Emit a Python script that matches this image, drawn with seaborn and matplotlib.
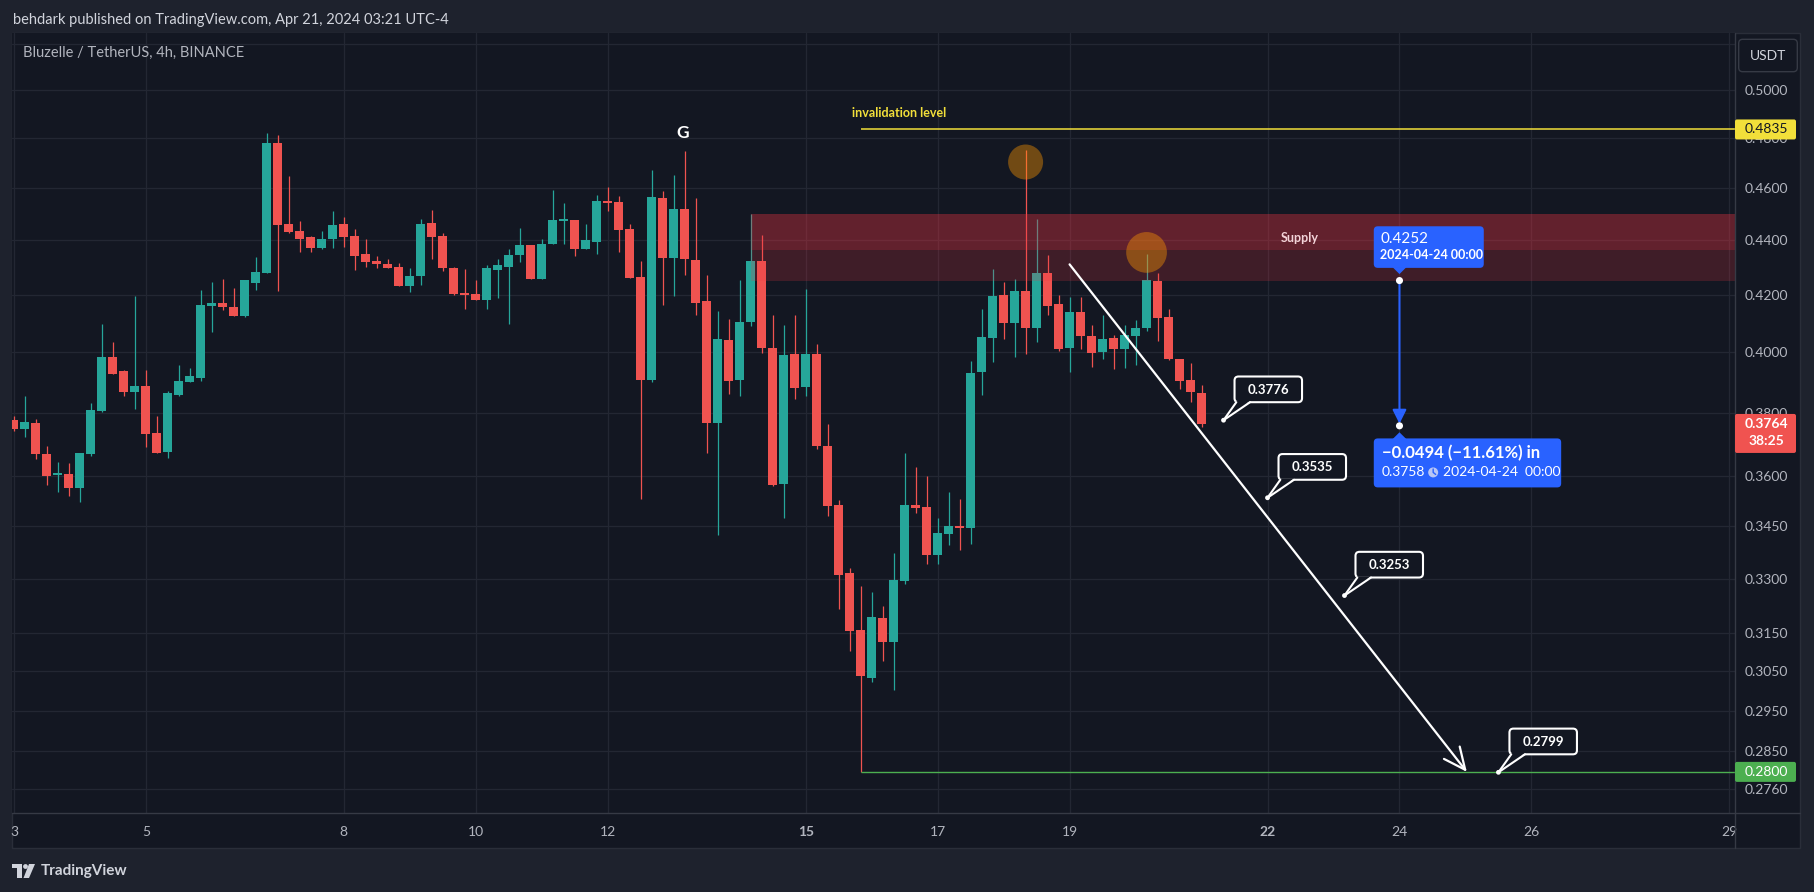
import numpy as np
import pandas as pd
import matplotlib
matplotlib.use("Agg")
import matplotlib.pyplot as plt
import seaborn as sns
from matplotlib.patches import Rectangle, FancyBboxPatch, Polygon, Circle
from matplotlib.lines import Line2D
from matplotlib.transforms import IdentityTransform
from matplotlib.ticker import NullLocator

# ---------------- data ----------------
first_candle = "2024-04-03 00:00"   # 4h candles
opens = [0.3777, 0.3748, 0.3767, 0.3669, 0.3605, 0.3607, 0.3563, 0.3670, 0.3807, 0.3984,
         0.3937, 0.3869, 0.3887, 0.3735, 0.3676, 0.3859, 0.3902, 0.3915, 0.4162, 0.4172,
         0.4157, 0.4127, 0.4244, 0.4281, 0.4780, 0.4462, 0.4435, 0.4412, 0.4373, 0.4406,
         0.4462, 0.4416, 0.4350, 0.4324, 0.4313, 0.4302, 0.4234, 0.4267, 0.4465, 0.4416,
         0.4298, 0.4207, 0.4204, 0.4183, 0.4289, 0.4303, 0.4347, 0.4382, 0.4259, 0.4387,
         0.4474, 0.4477, 0.4369, 0.4395, 0.4550, 0.4545, 0.4442, 0.4266, 0.3908, 0.4561,
         0.4333, 0.4519, 0.4328, 0.4179, 0.3767, 0.4042, 0.3908, 0.4104, 0.4324, 0.4015,
         0.3577, 0.3995, 0.3884, 0.3995, 0.3694, 0.3513, 0.3316, 0.3159, 0.3033, 0.3192,
         0.3128, 0.3294, 0.3513, 0.3507, 0.3368, 0.3429, 0.3451, 0.3446, 0.3935, 0.4050,
         0.4201, 0.4103, 0.4215, 0.4085, 0.4280, 0.4168, 0.4016, 0.4140, 0.4056, 0.4003,
         0.4049, 0.4013, 0.4057, 0.4085, 0.4250, 0.4122, 0.3978, 0.3907, 0.3865]
highs = [0.3789, 0.3855, 0.3780, 0.3694, 0.3644, 0.3641, 0.3672, 0.3832, 0.4098, 0.4036,
         0.3941, 0.4197, 0.3941, 0.3789, 0.3871, 0.3957, 0.3947, 0.4218, 0.4247, 0.4258,
         0.4225, 0.4254, 0.4338, 0.4820, 0.4813, 0.4648, 0.4473, 0.4415, 0.4435, 0.4513,
         0.4488, 0.4442, 0.4405, 0.4342, 0.4331, 0.4316, 0.4296, 0.4481, 0.4515, 0.4427,
         0.4302, 0.4295, 0.4254, 0.4309, 0.4331, 0.4368, 0.4446, 0.4382, 0.4405, 0.4593,
         0.4542, 0.4477, 0.4462, 0.4573, 0.4604, 0.4569, 0.4462, 0.4324, 0.4671, 0.4589,
         0.4651, 0.4747, 0.4561, 0.4273, 0.4144, 0.4115, 0.4254, 0.4499, 0.4420, 0.4129,
         0.4094, 0.4129, 0.4222, 0.4029, 0.3764, 0.3528, 0.3330, 0.3279, 0.3263, 0.3224,
         0.3372, 0.3672, 0.3629, 0.3601, 0.3475, 0.3552, 0.3531, 0.3972, 0.4151, 0.4295,
         0.4247, 0.4258, 0.4751, 0.4481, 0.4346, 0.4201, 0.4193, 0.4193, 0.4094, 0.4129,
         0.4060, 0.4094, 0.4112, 0.4350, 0.4280, 0.4151, 0.3978, 0.3965, 0.3890]
lows = [0.3743, 0.3723, 0.3654, 0.3575, 0.3553, 0.3541, 0.3523, 0.3664, 0.3803, 0.3928,
        0.3856, 0.3813, 0.3692, 0.3673, 0.3657, 0.3853, 0.3902, 0.3905, 0.4071, 0.4148,
        0.4127, 0.4123, 0.4219, 0.4281, 0.4215, 0.4429, 0.4358, 0.4358, 0.4369, 0.4373,
        0.4376, 0.4292, 0.4303, 0.4296, 0.4299, 0.4234, 0.4212, 0.4237, 0.4332, 0.4285,
        0.4201, 0.4151, 0.4183, 0.4151, 0.4190, 0.4098, 0.4318, 0.4259, 0.4256, 0.4387,
        0.4387, 0.4340, 0.4369, 0.4351, 0.4513, 0.4357, 0.4262, 0.3531, 0.3902, 0.4165,
        0.4197, 0.4273, 0.4129, 0.3672, 0.3425, 0.3861, 0.3855, 0.4092, 0.3998, 0.3571,
        0.3475, 0.3845, 0.3855, 0.3684, 0.3481, 0.3215, 0.3104, 0.2800, 0.3023, 0.3078,
        0.3002, 0.3286, 0.3488, 0.3342, 0.3342, 0.3397, 0.3380, 0.3400, 0.3859, 0.3966,
        0.4047, 0.3986, 0.3993, 0.4037, 0.4130, 0.4006, 0.3935, 0.4010, 0.3950, 0.3979,
        0.3943, 0.3946, 0.3956, 0.4075, 0.4040, 0.3973, 0.3879, 0.3836, 0.3755]
closes = [0.3748, 0.3770, 0.3670, 0.3602, 0.3608, 0.3563, 0.3672, 0.3809, 0.3984, 0.3928,
          0.3869, 0.3887, 0.3733, 0.3673, 0.3864, 0.3904, 0.3921, 0.4165, 0.4172, 0.4159,
          0.4127, 0.4254, 0.4283, 0.4780, 0.4459, 0.4432, 0.4406, 0.4373, 0.4405, 0.4458,
          0.4413, 0.4343, 0.4321, 0.4314, 0.4299, 0.4234, 0.4267, 0.4462, 0.4413, 0.4299,
          0.4205, 0.4201, 0.4183, 0.4298, 0.4309, 0.4346, 0.4382, 0.4259, 0.4386, 0.4477,
          0.4478, 0.4369, 0.4401, 0.4550, 0.4543, 0.4438, 0.4262, 0.3908, 0.4565, 0.4333,
          0.4519, 0.4329, 0.4173, 0.3767, 0.4046, 0.3904, 0.4104, 0.4324, 0.4015, 0.3574,
          0.3991, 0.3881, 0.3995, 0.3694, 0.3510, 0.3311, 0.3157, 0.3039, 0.3194, 0.3128,
          0.3296, 0.3513, 0.3505, 0.3368, 0.3431, 0.3451, 0.3446, 0.3931, 0.4053, 0.4197,
          0.4103, 0.4215, 0.4085, 0.4280, 0.4162, 0.4013, 0.4140, 0.4057, 0.3999, 0.4046,
          0.4013, 0.4060, 0.4084, 0.4254, 0.4120, 0.3976, 0.3905, 0.3866, 0.3764]

price_ticks = [0.5200, 0.5000, 0.4800, 0.4600, 0.4400, 0.4200, 0.4000, 0.3800, 0.3600,
               0.3450, 0.3300, 0.3150, 0.3050, 0.2950, 0.2850, 0.2760]
day_ticks = [3, 5, 8, 10, 12, 15, 17, 19, 22, 24, 26, 29]
bold_days = [15, 22]

supply_start = "2024-04-14 04:00"
supply_top, supply_inner, supply_bottom = 0.4500, 0.4364, 0.4250

invalidation_start = "2024-04-15 20:00"
invalidation_price = 0.4835
target_start = "2024-04-15 20:00"
target_price = 0.2800

highlight_times = ["2024-04-18 08:00", "2024-04-20 04:00"]
highlight_prices = [0.4703, 0.4355]

path_start_time, path_start_price = "2024-04-19 00:00", 0.4311
path_end_time, path_end_price = "2024-04-25 00:30", 0.2800

callout_times = ["2024-04-21 08:00", "2024-04-22 00:00", "2024-04-23 04:00", "2024-04-25 12:00"]
callout_prices = [0.3776, 0.3535, 0.3253, 0.2799]

measure_time = "2024-04-24 00:00"
measure_from, measure_to = 0.4252, 0.3758
measure_change, measure_pct = -0.0494, -11.61

last_price = 0.3764
countdown = "38:25"

# ---------------- style ----------------
W, H = 1814, 892
BG_OUT = "#1e222d"
BG = "#131722"
GRID = "#232733"
TXT = "#b2b5be"
GREEN = "#26a69a"
RED = "#ef5350"
BLUE = "#2962ff"
YELLOW = "#f2df3a"

sns.set_theme(style="dark", rc={"axes.facecolor": BG, "figure.facecolor": BG_OUT,
                                 "savefig.facecolor": BG_OUT})
plt.rcParams["font.family"] = ["Lato", "DejaVu Sans"]

fig = plt.figure(figsize=(W / 100, H / 100), dpi=100)
fig.add_artist(Rectangle((12 / W, 1 - 848 / H), (1800 - 12) / W, (848 - 33) / H,
                         transform=fig.transFigure, fc=BG, ec="#2a2e39", lw=1, zorder=-10))
ax = fig.add_axes([12 / W, 1 - 813 / H, (1735 - 12) / W, (813 - 33) / H])
ax.set_facecolor(BG)
for s in ax.spines.values():
    s.set_visible(False)


def dayf(t):
    t = pd.to_datetime(t)
    return (t - pd.Timestamp("2024-04-01")) / pd.Timedelta(days=1) + 1


XLIM = (2.9712, 29.0852)
YLIM = (0.27038, 0.52483)
ax.set_yscale("log")

times = pd.date_range(first_candle, periods=len(opens), freq="4h")
x = np.asarray(dayf(times), dtype=float)
o, h, l, c = map(np.asarray, (opens, highs, lows, closes))
col = np.where(c >= o, GREEN, RED)
bot = np.minimum(o, c)
hgt = np.maximum(np.abs(c - o), bot * 0.0012)

ax.vlines(x, l, h, colors=col, lw=0.9, zorder=3)
ax.bar(x, hgt, bottom=bot, width=4 / 24 * 0.82, color=col, lw=0, zorder=4)

# supply zone
xs = float(dayf(supply_start))
ax.add_patch(Rectangle((xs, supply_bottom), XLIM[1] - xs, supply_top - supply_bottom,
                       fc="#f23645", alpha=0.2, lw=0, zorder=5))
ax.add_patch(Rectangle((xs, supply_inner), XLIM[1] - xs, supply_top - supply_inner,
                       fc="#f23645", alpha=0.2, lw=0, zorder=5))
ax.text(22.49, 0.4409, "Supply", color="#f3d3d8", fontsize=9, fontweight="bold",
        ha="center", va="center", zorder=6)

# highlight circles
sns.scatterplot(x=[float(dayf(highlight_times[0]))], y=[highlight_prices[0]], s=635,
                color="#ff9800", alpha=0.4, edgecolor="none", ax=ax, zorder=6, legend=False)
sns.scatterplot(x=[float(dayf(highlight_times[1]))], y=[highlight_prices[1]], s=860,
                color="#ff9800", alpha=0.4, edgecolor="none", ax=ax, zorder=6, legend=False)

# levels
ax.hlines(invalidation_price, float(dayf(invalidation_start)), XLIM[1], color=YELLOW, lw=1.1, zorder=6)
ax.text(15.698, 0.4902, "invalidation level", color=YELLOW, fontsize=9, fontweight="bold",
        ha="left", va="center", zorder=6)
ax.hlines(target_price, float(dayf(target_start)), XLIM[1], color="#4caf50", lw=1.0, zorder=6)
ax.text(13.141, 0.4820, "G", color="white", fontsize=12.5, fontweight="bold",
        ha="center", va="center", zorder=6)

# projected path arrow
ax.annotate("", xy=(float(dayf(path_end_time)), path_end_price),
            xytext=(float(dayf(path_start_time)), path_start_price),
            arrowprops=dict(arrowstyle="->,head_length=1.3,head_width=0.6", color="white",
                            lw=1.6, shrinkA=0, shrinkB=0), zorder=7)

# measure line
mx = float(dayf(measure_time))
ax.annotate("", xy=(mx, measure_to), xytext=(mx, measure_from),
            arrowprops=dict(arrowstyle="-|>,head_length=0.7,head_width=0.35", color=BLUE,
                            lw=1.5, shrinkA=0, shrinkB=1.5), zorder=7)
sns.scatterplot(x=[mx, mx], y=[measure_from, measure_to], s=26, color="white",
                edgecolor="none", ax=ax, zorder=8, legend=False)

# callout dots
cx = [float(dayf(t)) for t in callout_times]
sns.scatterplot(x=cx, y=callout_prices, s=12, color="white", edgecolor="none",
                ax=ax, zorder=8, legend=False)

# axes
ax.set_xlim(*XLIM)
ax.set_ylim(*YLIM)
ax.set_xlabel("")
ax.set_ylabel("")
ax.set_xticks(day_ticks)
ax.set_xticklabels([str(d) for d in day_ticks])
for lab, d in zip(ax.get_xticklabels(), day_ticks):
    if d in bold_days:
        lab.set_fontweight("bold")
ax.tick_params(axis="x", length=0, pad=9.5, colors=TXT, labelsize=10)
ax.yaxis.tick_right()
ax.set_yticks(price_ticks)
ax.set_yticklabels(["" if p > 0.51 else f"{p:.4f}" for p in price_ticks])
ax.yaxis.set_minor_locator(NullLocator())
ax.tick_params(axis="y", length=0, pad=7, colors=TXT, labelsize=10)
ax.grid(True, which="major", color=GRID, lw=0.9)
ax.set_axisbelow(True)

ID = IdentityTransform()


def dpt(xd, yd):
    return ax.transData.transform((xd, yd))


# separators
fig.add_artist(Line2D([1735 / W, 1735 / W], [1 - 848 / H, 1 - 33 / H], transform=fig.transFigure,
                      color="#363a45", lw=1, zorder=2))
fig.add_artist(Line2D([12 / W, 1800 / W], [1 - 813 / H, 1 - 813 / H], transform=fig.transFigure,
                      color="#363a45", lw=1, zorder=2))

# callout boxes
for t, p in zip(callout_times, callout_prices):
    dx, dy = dpt(float(dayf(t)), p)
    bl, bb = dx + 11, dy + 18
    fig.add_artist(FancyBboxPatch((bl, bb), 67.5, 25.7, boxstyle="round,pad=0,rounding_size=4",
                                  transform=ID, fc=BG, ec="white", lw=1.5, zorder=20))
    fig.add_artist(Polygon([(bl + 1.8, bb + 1.3), (bl + 15.5, bb + 1.3), (dx, dy)], closed=True,
                           transform=ID, fc=BG, ec="none", zorder=21))
    for ex in (bl + 1.8, bl + 15.5):
        fig.add_artist(Line2D([dx, ex], [dy, bb], transform=ID, color="white", lw=1.5, zorder=22))
    fig.text(bl + 33.75, bb + 12.5, f"{p:.4f}", transform=ID, ha="center", va="center",
             color="white", fontsize=9.5, fontweight="bold", zorder=23)

# measure boxes
tx, ty = dpt(mx, measure_from)
_, by = dpt(mx, measure_to)
fig.add_artist(FancyBboxPatch((tx - 25.7, ty + 12.7), 110, 41.6, boxstyle="round,pad=0,rounding_size=4",
                              transform=ID, fc=BLUE, ec="none", zorder=20))
fig.add_artist(Polygon([(tx - 7, ty + 13.5), (tx + 7, ty + 13.5), (tx, ty + 6.5)], closed=True,
                       transform=ID, fc=BLUE, ec="none", zorder=20))
fig.text(tx - 19, ty + 41.7, f"{measure_from:.4f}", transform=ID, ha="left", va="center",
         color="white", fontsize=11, zorder=23)
fig.text(tx - 19, ty + 25.2, measure_time, transform=ID, ha="left", va="center",
         color="white", fontsize=9, fontweight="bold", zorder=23)

fig.add_artist(FancyBboxPatch((tx - 25.7, by - 61.6), 187.4, 49, boxstyle="round,pad=0,rounding_size=4",
                              transform=ID, fc=BLUE, ec="none", zorder=20))
fig.add_artist(Polygon([(tx - 7, by - 13.4), (tx + 7, by - 13.4), (tx, by - 6.5)], closed=True,
                       transform=ID, fc=BLUE, ec="none", zorder=20))
fig.text(tx - 17.3, by - 27.6, f"\u2212{abs(measure_change):.4f} (\u2212{abs(measure_pct):.2f}%) in",
         transform=ID, ha="left", va="center", color="white", fontsize=12, fontweight="bold", zorder=23)
fig.text(tx - 18, by - 46.6, f"{measure_to:.4f}", transform=ID, ha="left", va="center",
         color="white", fontsize=10, zorder=23)
fig.add_artist(Circle((tx + 33.7, by - 46.6), 5, transform=ID, fc="#b9c6f5", ec="none", zorder=22))
fig.add_artist(Line2D([tx + 33.7, tx + 33.7, tx + 36.2], [by - 43.2, by - 46.6, by - 48.6],
                      transform=ID, color=BLUE, lw=1, zorder=23))
fig.text(tx + 43.3, by - 46.6, measure_time.replace(" ", "  "), transform=ID, ha="left",
         va="center", color="white", fontsize=10, zorder=23)

# price-axis labels
_, yy = dpt(XLIM[1], invalidation_price)
fig.add_artist(FancyBboxPatch((1735, yy - 10), 61, 20, boxstyle="round,pad=0,rounding_size=2",
                              transform=ID, fc=YELLOW, ec="none", zorder=20))
fig.text(1766, yy, f"{invalidation_price:.4f}", transform=ID, ha="center", va="center",
         color=BG, fontsize=10, zorder=23)
_, yy = dpt(XLIM[1], target_price)
fig.add_artist(FancyBboxPatch((1735, yy - 10), 61, 20, boxstyle="round,pad=0,rounding_size=2",
                              transform=ID, fc="#4caf50", ec="none", zorder=20))
fig.text(1766, yy, f"{target_price:.4f}", transform=ID, ha="center", va="center",
         color="white", fontsize=10, zorder=23)
_, yy = dpt(XLIM[1], last_price)
fig.add_artist(FancyBboxPatch((1735, yy - 29), 61, 39, boxstyle="round,pad=0,rounding_size=2",
                              transform=ID, fc="#f05350", ec="none", zorder=20))
fig.text(1766, yy, f"{last_price:.4f}", transform=ID, ha="center", va="center",
         color="white", fontsize=10, fontweight="bold", zorder=23)
fig.text(1766, yy - 17.5, countdown, transform=ID, ha="center", va="center",
         color="white", fontsize=10, fontweight="bold", zorder=23)

# USDT button
fig.add_artist(FancyBboxPatch((1738.7, H - 71.7), 58.6, 32.4, boxstyle="round,pad=0,rounding_size=4",
                              transform=ID, fc=BG, ec="#363a45", lw=1, zorder=20))
fig.text(1768, H - 55.5, "USDT", transform=ID, ha="center", va="center", color="#d1d4dc",
         fontsize=10, zorder=23)

# header, title, footer
fig.text(13, H - 20, "behdark published on TradingView.com, Apr 21, 2024 03:21 UTC-4",
         transform=ID, ha="left", va="center", color="#d1d4dc", fontsize=10.5, zorder=23)
fig.text(23, H - 53, "Bluzelle / TetherUS, 4h, BINANCE", transform=ID, ha="left", va="center",
         color=TXT, fontsize=10.5, zorder=23)
LOGO = "#d1d4dc"
fig.add_artist(Polygon([(12, H - 864), (22, H - 864), (22, H - 878), (17, H - 878), (17, H - 868), (12, H - 868)],
                       closed=True, transform=ID, fc=LOGO, ec="none", zorder=23))
fig.add_artist(Circle((25.5, H - 866.5), 2.4, transform=ID, fc=LOGO, ec="none", zorder=23))
fig.add_artist(Polygon([(29, H - 864), (35, H - 864), (29, H - 878), (23.5, H - 878)],
                       closed=True, transform=ID, fc=LOGO, ec="none", zorder=23))
fig.text(41, H - 871, "TradingView", transform=ID, ha="left", va="center", color=LOGO,
         fontsize=11, fontweight="bold", zorder=23)

fig.savefig("out.png", dpi=100, facecolor=BG_OUT)
